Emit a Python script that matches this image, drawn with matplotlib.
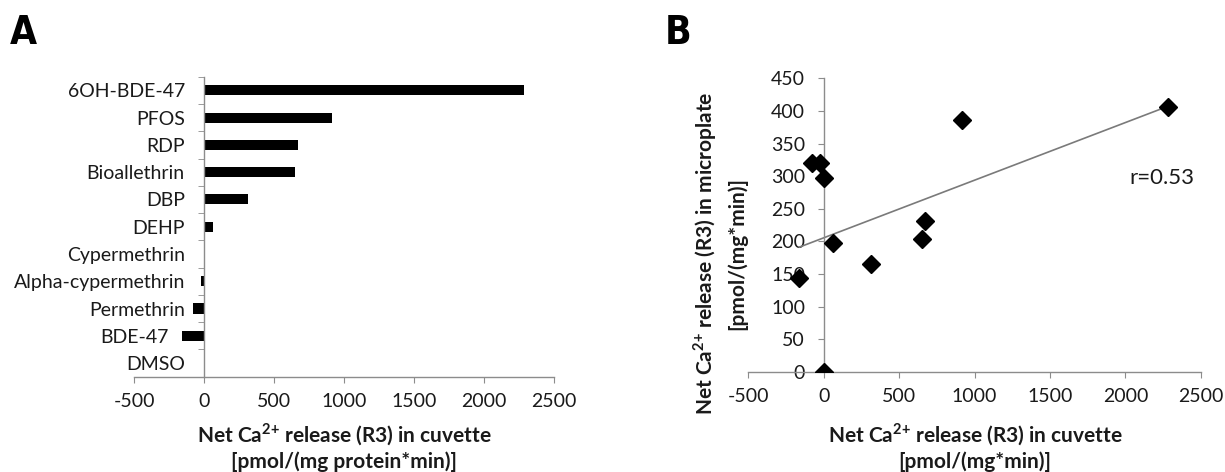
import numpy as np
import matplotlib
matplotlib.use('Agg')
import matplotlib.pyplot as plt

plt.rcParams['font.family'] = ['Lato', 'DejaVu Sans']
plt.rcParams['mathtext.fontset'] = 'custom'
plt.rcParams['mathtext.rm'] = 'Lato'
plt.rcParams['mathtext.bf'] = 'Lato:bold'

# Data
compounds = ['6OH-BDE-47', 'PFOS', 'RDP', 'Bioallethrin', 'DBP', 'DEHP',
             'Cypermethrin', 'Alpha-cypermethrin', 'Permethrin', 'BDE-47', 'DMSO']
cuvette = np.array([2284, 914, 672, 650, 312, 60, 0, -26, -78, -162, 0])
microplate = np.array([406, 386, 231, 203, 165, 197, 297, 320, 320, 143, 0])

x_ticks = [-500, 0, 500, 1000, 1500, 2000, 2500]
y_ticks_b = [0, 50, 100, 150, 200, 250, 300, 350, 400, 450]

axis_col = '#8c8c8c'
txt_col = '#1a1a1a'
ca = 'Net Ca$^{\\mathbf{2{+}}}$ release (R3) in '

fig = plt.figure(figsize=(12.25, 4.72), dpi=100)

# ---------------- Panel A: horizontal bars
axA = fig.add_axes([0.1096, 0.2019, 0.3429, 0.6356])
pos = np.arange(len(compounds))
axA.barh(pos, cuvette, height=0.37, color='black')
axA.set_xlim(-500, 2500)
axA.set_ylim(len(compounds) - 0.5, -0.5)
axA.set_xticks(x_ticks)
axA.set_xticklabels([str(t) for t in x_ticks])
axA.set_yticks(pos)
axA.set_yticklabels(compounds)
axA.set_yticks(np.arange(-0.5, len(compounds)), minor=True)

for s in ['top', 'right']:
    axA.spines[s].set_visible(False)
axA.spines['left'].set_position(('data', 0))
for s in ['left', 'bottom']:
    axA.spines[s].set_color(axis_col)
    axA.spines[s].set_linewidth(1.0)

axA.tick_params(axis='x', direction='out', length=4.5, color=axis_col,
                labelsize=14, labelcolor=txt_col, pad=7)
axA.tick_params(axis='y', which='major', length=0, labelsize=14,
                labelcolor=txt_col, pad=14)
axA.tick_params(axis='y', which='minor', direction='out', length=4.5,
                color=axis_col)
# BDE-47 label sits further left in the original
axA.yaxis.get_major_ticks()[compounds.index('BDE-47')].set_pad(26)

fig.text(344 / 1225, 1 - 447 / 472, ca + 'cuvette\n[pmol/(mg protein*min)]',
         ha='center', va='center', fontsize=15, fontweight='bold',
         color=txt_col, linespacing=1.2)

# ---------------- Panel B: scatter with trend line
axB = fig.add_axes([0.6109, 0.2125, 0.3694, 0.6216])
axB.plot(cuvette, microplate, linestyle='none', marker='D', markersize=9,
         color='black', zorder=3)
slope, intercept = np.polyfit(cuvette, microplate, 1)
xl = np.array([cuvette.min(), cuvette.max()])
axB.plot(xl, slope * xl + intercept, color='#7a7a7a', linewidth=1.2, zorder=2)
axB.text(2240, 297, 'r=0.53', ha='center', va='center', fontsize=16,
         color=txt_col)

axB.set_xlim(-500, 2500)
axB.set_ylim(0, 450)
axB.set_xticks(x_ticks)
axB.set_xticklabels([str(t) for t in x_ticks])
axB.set_yticks(y_ticks_b)
axB.set_yticklabels([str(t) for t in y_ticks_b])
for s in ['top', 'right']:
    axB.spines[s].set_visible(False)
axB.spines['left'].set_position(('data', 0))
for s in ['left', 'bottom']:
    axB.spines[s].set_color(axis_col)
    axB.spines[s].set_linewidth(1.0)
axB.tick_params(axis='both', direction='out', length=4.5, color=axis_col,
                labelsize=14, labelcolor=txt_col)
axB.tick_params(axis='x', pad=7)
axB.tick_params(axis='y', pad=9)

fig.text(975 / 1225, 1 - 447 / 472, ca + 'cuvette\n[pmol/(mg*min)]',
         ha='center', va='center', fontsize=15, fontweight='bold',
         color=txt_col, linespacing=1.2)
# y label as two separate lines
fig.text(705 / 1225, 1 - 253 / 472, ca + 'microplate',
         rotation=90, ha='center', va='center', fontsize=15,
         fontweight='bold', color=txt_col)
fig.text(737 / 1225, 1 - 253 / 472, '[pmol/(mg*min)]',
         rotation=90, ha='center', va='center', fontsize=15,
         fontweight='bold', color=txt_col)

# Panel letters
fig.text(10 / 1225, 1 - 44 / 472, 'A', fontsize=28, fontweight='heavy',
         fontstretch='condensed', family='DejaVu Sans', va='baseline')
fig.text(665 / 1225, 1 - 44 / 472, 'B', fontsize=28, fontweight='heavy',
         fontstretch='condensed', family='DejaVu Sans', va='baseline')

fig.savefig('out.png', dpi=100)
